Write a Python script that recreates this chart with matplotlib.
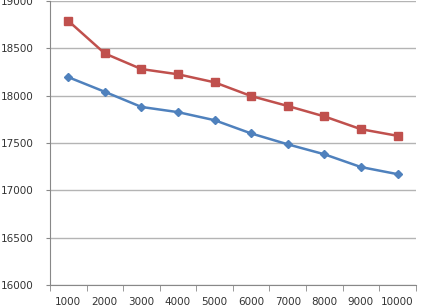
import matplotlib.pyplot as plt
import numpy as np

categories = ['1000', '2000', '3000', '4000', '5000', '6000', '7000', '8000', '9000', '10000']
upper = [18790, 18445, 18280, 18225, 18140, 17995, 17890, 17780, 17645, 17575]
lower = [18195, 18040, 17880, 17825, 17740, 17600, 17485, 17380, 17245, 17170]

fig = plt.figure(figsize=(4.23, 3.08), dpi=100)
ax = fig.add_axes([0.118, 0.075, 0.865, 0.922])

x = np.arange(len(categories))
ax.plot(x, upper, color='#C0504D', marker='s', markersize=6, linewidth=1.8, zorder=3)
ax.plot(x, lower, color='#4F81BD', marker='D', markersize=4.5, linewidth=1.8, zorder=3)

ax.set_xlim(-0.5, len(categories) - 0.5)
ax.set_ylim(16000, 19000)
ax.set_yticks(np.arange(16000, 19001, 500))
ax.yaxis.grid(True, color='#b4b4b4', linewidth=1)
ax.set_axisbelow(True)

ax.set_xticks(x)
ax.set_xticklabels(categories)
ax.set_xticks(np.arange(-0.5, len(categories)), minor=True)
ax.tick_params(axis='x', which='major', length=0, pad=9, labelsize=7.5, labelcolor='#333333')
ax.tick_params(axis='x', which='minor', length=4, color='#888888', direction='out')
ax.tick_params(axis='y', length=3, color='#888888', pad=9, labelsize=7.5, labelcolor='#333333')

for s in ['top', 'right']:
    ax.spines[s].set_visible(False)
for s in ['left', 'bottom']:
    ax.spines[s].set_color('#888888')

fig.savefig('out.png', dpi=100)
